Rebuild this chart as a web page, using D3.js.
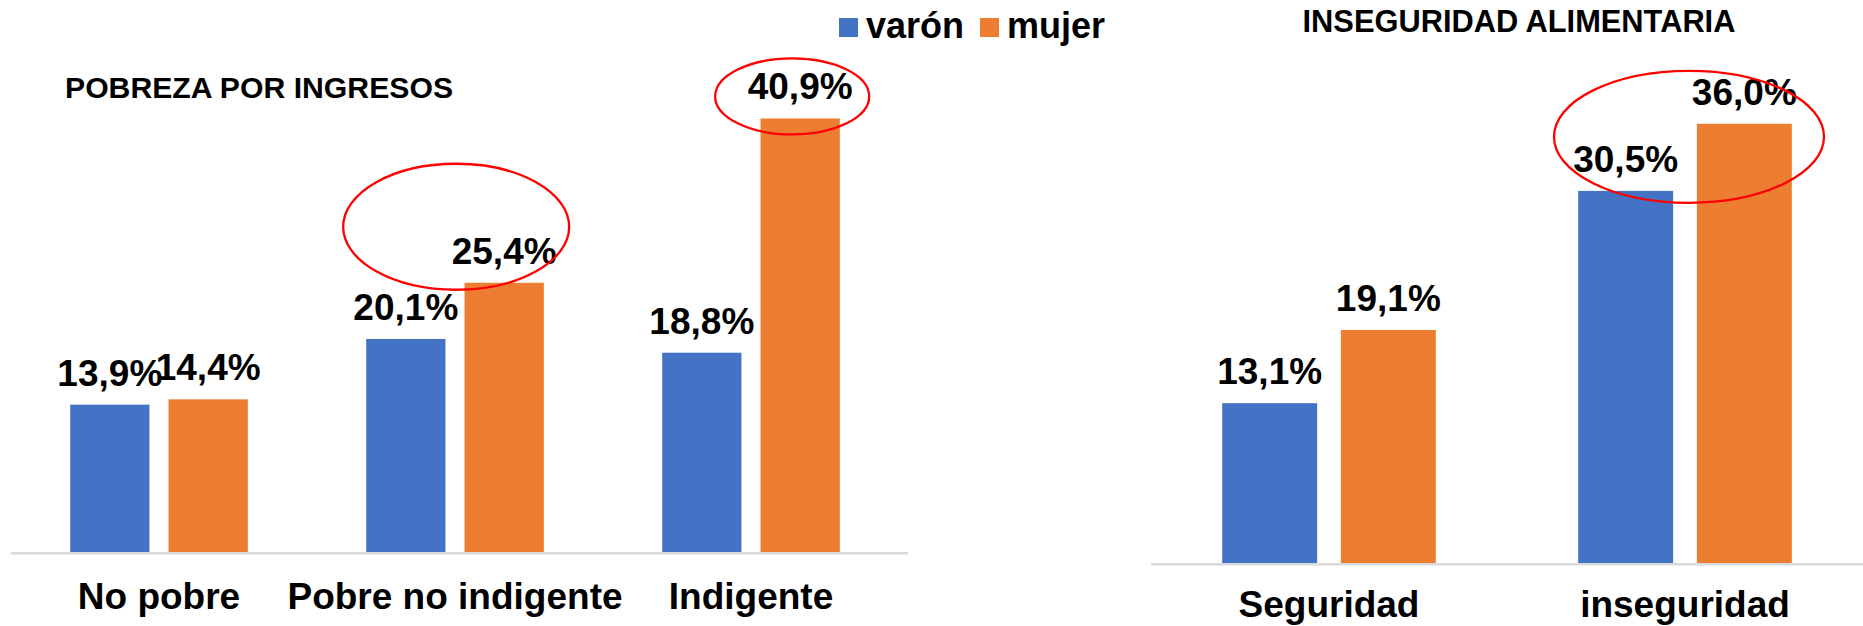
<!DOCTYPE html>
<html>
<head>
<meta charset="utf-8">
<script src="https://cdn.jsdelivr.net/npm/d3@7"></script>
<style>
  html, body { margin: 0; padding: 0; background: #ffffff; }
  svg { display: block; font-family: "Liberation Sans", Arial, sans-serif; }
</style>
</head>
<body>
<svg id="chart" width="1863" height="626"></svg>
<script>
// ---------- data ----------
const series = ["varón", "mujer"];
const seriesColors = ["#4472C4", "#ED7D31"];

const povertyTitle = "POBREZA POR INGRESOS";
const povertyCategories = ["No pobre", "Pobre no indigente", "Indigente"];
const povertyVaron = [13.9, 20.1, 18.8];
const povertyMujer = [14.4, 25.4, 40.9];

const foodTitle = "INSEGURIDAD ALIMENTARIA";
const foodCategories = ["Seguridad", "inseguridad"];
const foodVaron = [13.1, 30.5];
const foodMujer = [19.1, 36.0];

const fmt = v => v.toFixed(1).replace(".", ",") + "%";

const svg = d3.select("#chart");
const color = d3.scaleOrdinal().domain(series).range(seriesColors);

function panel(opts) {
  const g = svg.append("g");
  const x0 = d3.scaleBand().domain(opts.categories).range(opts.xRange)
    .paddingInner(0.4).paddingOuter(0.2);
  const x1 = d3.scaleBand().domain(series).range([0, x0.bandwidth()])
    .paddingInner(opts.innerPad);
  const y = d3.scaleLinear().domain([0, opts.yMax]).range([opts.baseline, opts.baseline - opts.yMax * opts.pxPer]);

  const rows = opts.categories.map((c, i) => ({
    cat: c,
    vals: [{ s: "varón", v: opts.varon[i] }, { s: "mujer", v: opts.mujer[i] }]
  }));

  // axis line
  g.append("line")
    .attr("x1", opts.axisX[0]).attr("x2", opts.axisX[1])
    .attr("y1", opts.baseline + 1.2).attr("y2", opts.baseline + 1.2)
    .attr("stroke", "#D9D9D9").attr("stroke-width", 2.5);

  const grp = g.selectAll("g.grp").data(rows).join("g")
    .attr("transform", d => `translate(${x0(d.cat)},0)`);

  grp.selectAll("rect").data(d => d.vals).join("rect")
    .attr("x", d => x1(d.s))
    .attr("width", x1.bandwidth())
    .attr("y", d => y(d.v))
    .attr("height", d => y(0) - y(d.v))
    .attr("fill", d => color(d.s));

  grp.selectAll("text.lbl").data(d => d.vals).join("text")
    .attr("class", "lbl")
    .attr("x", d => x1(d.s) + x1.bandwidth() / 2)
    .attr("y", d => y(d.v) - 19)
    .attr("text-anchor", "middle")
    .attr("font-size", 37).attr("font-weight", "bold").attr("fill", "#000")
    .text(d => fmt(d.v));

  // category axis
  const ax = g.append("g").attr("transform", `translate(0,${opts.baseline})`)
    .call(d3.axisBottom(x0).tickSize(0));
  ax.select(".domain").remove();
  ax.selectAll("text")
    .attr("y", opts.catY - opts.baseline).attr("dy", 0)
    .attr("font-size", 37).attr("font-weight", "bold")
    .attr("font-family", "'Liberation Sans', Arial, sans-serif")
    .attr("fill", "#000");

  // title
  g.append("text")
    .attr("x", opts.titleX).attr("y", opts.titleY)
    .attr("text-anchor", opts.titleAnchor)
    .attr("font-size", opts.titleSize).attr("font-weight", "bold").attr("fill", "#000")
    .text(opts.title);

  // highlight ellipses
  opts.circles.forEach(c => {
    const i = opts.categories.indexOf(c.cat);
    const vals = c.s ? [ (c.s === "varón" ? opts.varon : opts.mujer)[i] ] : [opts.varon[i], opts.mujer[i]];
    const cx = c.s ? x0(c.cat) + x1(c.s) + x1.bandwidth() / 2 : x0(c.cat) + x0.bandwidth() / 2;
    g.append("ellipse")
      .attr("cx", cx + c.dx)
      .attr("cy", y(d3.max(vals)) + c.dy)
      .attr("rx", c.rx).attr("ry", c.ry)
      .attr("fill", "none").attr("stroke", "#FF0000").attr("stroke-width", 2.3);
  });
}

panel({
  categories: povertyCategories, varon: povertyVaron, mujer: povertyMujer,
  xRange: [11, 899], innerPad: 0.194, axisX: [11, 908],
  baseline: 552, pxPer: 10.6, yMax: 45, catY: 609,
  title: povertyTitle, titleX: 65, titleY: 98, titleAnchor: "start", titleSize: 30.2,
  circles: [
    { cat: "Pobre no indigente", s: "mujer", dx: -48, dy: -56, rx: 113, ry: 63 },
    { cat: "Indigente", s: "mujer", dx: -8, dy: -22, rx: 77, ry: 38 }
  ]
});

panel({
  categories: foodCategories, varon: foodVaron, mujer: foodMujer,
  xRange: [1151, 1863], innerPad: 0.2, axisX: [1151, 1863],
  baseline: 563, pxPer: 12.2, yMax: 40, catY: 617,
  title: foodTitle, titleX: 1519, titleY: 32, titleAnchor: "middle", titleSize: 30.8,
  circles: [
    { cat: "inseguridad", s: null, dx: 4, dy: 13, rx: 135, ry: 66 }
  ]
});

// legend
const leg = svg.append("g");
const legX = [839, 980];
series.forEach((s, i) => {
  leg.append("rect").attr("x", legX[i]).attr("y", 18).attr("width", 19).attr("height", 19)
    .attr("fill", color(s));
  leg.append("text").attr("x", legX[i] + 27).attr("y", 38)
    .attr("font-size", 36).attr("font-weight", "bold").attr("fill", "#000")
    .text(s);
});
</script>
</body>
</html>
